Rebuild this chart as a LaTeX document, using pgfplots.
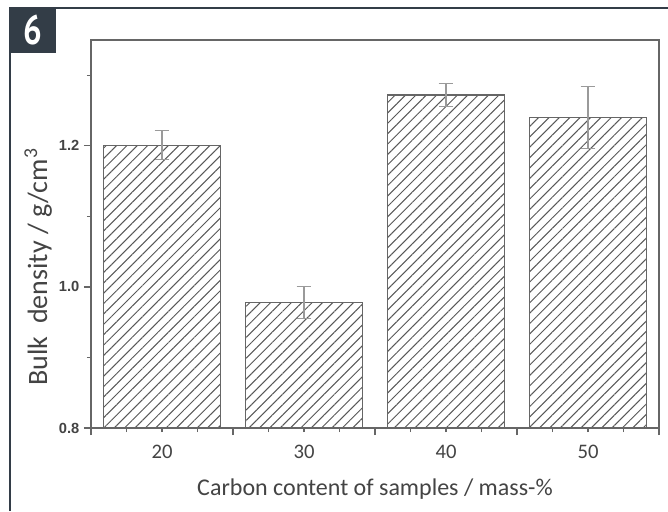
\documentclass[border=0pt]{standalone}
\usepackage{fontspec}
\setmainfont{Carlito}
\newfontfamily\ticksfont{Liberation Sans}
\newfontfamily\numfont{PT Sans}
\usepackage{pgfplots}
\pgfplotsset{compat=1.18}
\usetikzlibrary{patterns.meta}
\definecolor{frame}{HTML}{333D47}
\definecolor{axgray}{HTML}{666666}
\definecolor{txt}{HTML}{444444}
\definecolor{errg}{HTML}{9A9A9A}
\definecolor{hatch}{HTML}{585858}
\pgfplotstableread{
x y e
1 1.201 0.021
2 0.978 0.023
3 1.272 0.016
4 1.240 0.044
}\density
\begin{document}
\begin{tikzpicture}
\useasboundingbox (0,0) rectangle (501pt,383.25pt);
\fill[white] (0,0) rectangle (501pt,383.25pt);
\draw[frame, line width=1.1pt] (7.5pt,0) -- (7.5pt,377.25pt) -- (501pt,377.25pt);
\fill[frame] (7.5pt,377.8pt) rectangle (42pt,343.5pt);
\node[white, font=\numfont\bfseries\fontsize{31}{31}\selectfont] at (24.75pt,360.4pt) {\scalebox{0.8}[1]{6}};
\begin{axis}[
  at={(68.25pt,62.25pt)}, anchor=south west,
  scale only axis, width=426pt, height=291pt,
  xmin=0.5, xmax=4.5, ymin=0.8, ymax=1.35,
  ybar, bar width=0.82,
  axis line style={axgray, line width=1.2pt},
  tick style={axgray, line width=0.9pt},
  tick align=outside, tick pos=left,
  major tick length=5.25pt, minor tick length=3pt,
  xtick={0.5,1.5,2.5,3.5,4.5}, xticklabels={},
  minor xtick={0.75,1,1.25,1.75,2,2.25,2.75,3,3.25,3.75,4,4.25},
  extra x ticks={1,2,3,4}, extra x tick labels={20,30,40,50},
  extra x tick style={major tick length=0pt,
    tick label style={anchor=center, yshift=-18pt}},
  xticklabel style={font=\fontsize{15.5}{15.5}\selectfont, text=txt},
  ytick={0.8,1.0,1.2}, minor ytick={0.9,1.1,1.3},
  yticklabel style={font=\ticksfont\bfseries\fontsize{11}{11}\selectfont, text=txt,
    /pgf/number format/.cd, fixed, fixed zerofill, precision=1, assume math mode=true},
  xlabel={Carbon content of samples / mass-\%},
  ylabel={Bulk\ \ density / g/cm\textsuperscript{3}},
  xlabel style={font=\fontsize{18}{18}\selectfont, text=txt,
    at={(axis description cs:0.5,-0.157)}, anchor=center},
  ylabel style={font=\fontsize{21}{21}\selectfont, text=txt,
    at={(axis description cs:-0.093,0.415)}, anchor=center},
]
\addplot[ybar, draw=axgray, line width=0.9pt,
  pattern={Lines[angle=45,distance=5.5pt,line width=0.75pt]}, pattern color=hatch,
  error bars/.cd, y dir=both, y explicit,
  error bar style={errg, line width=0.8pt},
  error mark options={errg, line width=0.8pt, mark size=5.6pt, rotate=90}]
  table[x=x, y=y, y error=e]{\density};
\end{axis}
\end{tikzpicture}
\end{document}
